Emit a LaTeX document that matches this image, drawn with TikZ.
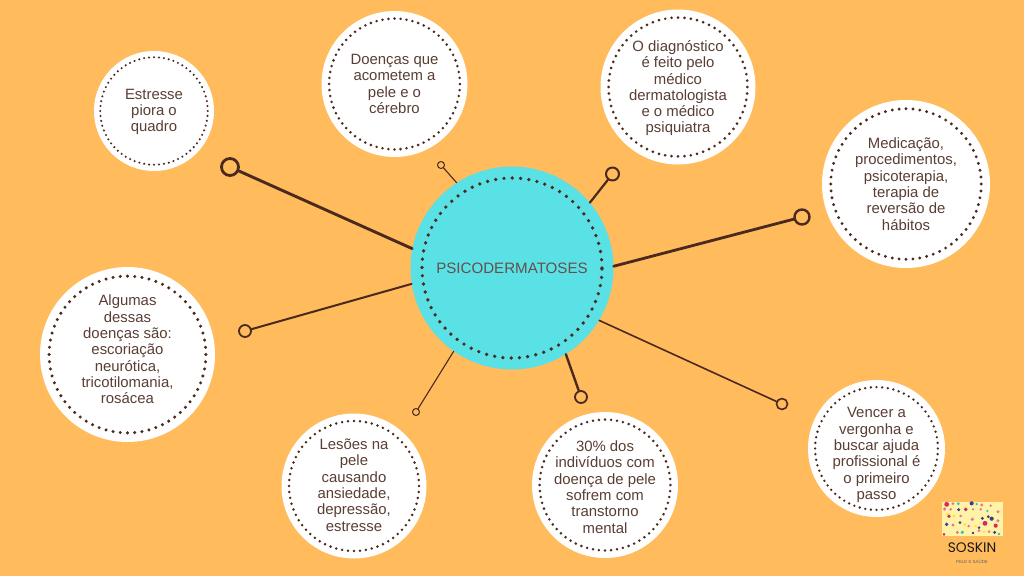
\documentclass[tikz,border=0pt]{standalone}
\usepackage{fontspec}
\setmainfont{Liberation Sans}
\newfontfamily\marcafont{Poppins}
\definecolor{fundo}{HTML}{FFBB5C}
\definecolor{ciano}{HTML}{5AE1E6}
\definecolor{marrom}{HTML}{4A2A1E}
\definecolor{texto}{HTML}{5A3E34}
\definecolor{creme}{HTML}{FFF3A8}
\definecolor{rubi}{HTML}{D42A5C}
\definecolor{rosa}{HTML}{EE6F9A}
\definecolor{anil}{HTML}{3F3A8C}
\definecolor{turq}{HTML}{2FC4C8}
\definecolor{ouro}{HTML}{FFE62E}
\tikzset{
	bolha/.style={circle,fill=white,inner sep=0pt},
	letras/.style={inner sep=0pt,align=center,text=texto,font=\fontsize{14.9}{16.3}\selectfont},
	pontos/.style={draw=marrom,line cap=round},
	pino/.style={circle,draw=marrom,inner sep=0pt},
	fio/.style={draw=marrom,line cap=round}
}
\begin{document}
\begin{tikzpicture}[x=1pt,y=-1pt,line join=round]
	\fill[fundo] (0,0) rectangle (1024,576);
	\useasboundingbox (0,0) rectangle (1024,576);
	% bolhas
	\foreach \n/\x/\y/\r/\o/\t in {%
		um/154/111/60/1/{Estresse\\piora o\\quadro},
		dois/394.5/84/73/0/{Doenças que\\acometem a\\pele e o\\cérebro},
		tres/678/87/77.5/1.3/{O diagnóstico\\é feito pelo\\médico\\dermatologista\\e o médico\\psiquiatra},
		quatro/906/184/84/0/{Medicação,\\procedimentos,\\psicoterapia,\\terapia de\\reversão de\\hábitos},
		cinco/127.5/354.5/87.5/-5/{Algumas\\dessas\\doenças são:\\escoriação\\neurótica,\\tricotilomania,\\rosácea},
		seis/354/486/72.5/-1/{Lesões na\\pele\\causando\\ansiedade,\\depressão,\\estresse},
		sete/605/485/73/2/{30\% dos\\indivíduos com\\doença de pele\\sofrem com\\transtorno\\mental},
		oito/876.5/448.5/68.5/6.5/{Vencer a\\vergonha e\\buscar ajuda\\profissional é\\o primeiro\\passo}}
	{
		\pgfmathsetmacro\R{0.896*\r}
		\pgfmathsetmacro\D{2*pi*\R/68}
		\pgfmathsetmacro\W{\r/26}
		\node[bolha,minimum size=2*\r pt] (\n) at (\x,\y) {};
		\draw[pontos,line width=\W pt,dash pattern=on 0pt off \D pt] (\n.center) circle (\R pt);
		\node[letras] (\n txt) at (\x,\y+\o) {\t};
	}
	% centro
	\node[circle,fill=ciano,inner sep=0pt,minimum size=203pt,text=texto!80!black!85!white,font=\fontsize{15.1}{18}\selectfont] (hub) at (512,268) {PSICODERMATOSES};
	\draw[pontos,line width=3.7pt,dash pattern=on 0pt off 8.3pt] (hub.center) circle (90pt);
	% pinos
	\node[pino,minimum size=17pt,line width=2.8pt] (pa) at (230,167) {};
	\node[pino,minimum size=7pt,line width=1pt] (pb) at (441,165) {};
	\node[pino,minimum size=13pt,line width=2pt] (pc) at (612.5,174) {};
	\node[pino,minimum size=15pt,line width=2.4pt] (pd) at (802,217) {};
	\node[pino,minimum size=12pt,line width=1.8pt] (pe) at (245,331) {};
	\node[pino,minimum size=7pt,line width=1pt] (pf) at (416,412) {};
	\node[pino,minimum size=12pt,line width=1.8pt] (pg) at (581,397) {};
	\node[pino,minimum size=11pt,line width=1.6pt] (ph) at (782,404) {};
	\draw[fio,line width=2.9pt] (hub.169) -- (pa);
	\draw[fio,line width=1.1pt] (hub.123.5) -- (pb);
	\draw[fio,line width=2.2pt] (hub.40.2) -- (pc);
	\draw[fio,line width=2.8pt] (hub.1.7) -- (pd);
	\draw[fio,line width=2pt] (hub.189.6) -- (pe);
	\draw[fio,line width=1.1pt] (hub.235.4) -- (pf);
	\draw[fio,line width=2.4pt] (hub.-58) -- (pg);
	\draw[fio,line width=1.6pt] (hub.-31) -- (ph);
	% logo
	\node[fill=creme,inner sep=0pt,minimum width=61.5pt,minimum height=34pt] (logo) at (972.5,519) {};
	\begin{scope}[shift={(924,490)},x=0.3333pt,y=-0.3333pt]
	\foreach \x/\y/\c/\s in {68/43/rubi/2.2,143/40/anil/1.9,87/41/rosa/1.4,103/41/turq/1.4,158/42/turq/1.2,173/45/rosa/1.5,200/47/rosa/1.2,
		62/57/rosa/1.6,80/58/rosa/1.3,104/59/anil/1.5,125/58/rubi/1.8,147/58/rosa/1.2,170/58/rosa/1.2,190/63/turq/1.2,222/65/rosa/1.5,
		70/72/ouro/1.3,90/78/ouro/1.4,75/79/rubi/1.7,110/78/rosa/1.3,145/88/rosa/1.6,175/85/anil/1.5,193/80/anil/1.4,203/86/anil/1.9,222/92/rosa/1.5,
		183/100/rubi/2.2,68/103/anil/1.7,87/105/rosa/1.4,108/98/anil/1.4,122/103/ouro/1.4,134/108/rosa/1.3,155/108/ouro/1.3,215/107/rubi/1.9,165/113/anil/1.3,
		100/127/rosa/1.5,115/127/turq/1.6,147/129/anil/1.3,180/125/ouro/1.3,195/125/rosa/1.3,212/127/anil/1.5,225/132/turq/1.3,165/122/rosa/1.4,60/133/rubi/1.3}
	\fill[\c] (\x,\y) circle ({1.1*\s pt});
	\end{scope}
	\node[text=black!90,font=\marcafont\fontsize{13.8}{14}\selectfont] (marca) at (972,548) {SOSKIN};
	\node[text=black!60,font=\fontsize{4.4}{5}\selectfont] (slogan) at (972,562) {PELE E SAÚDE};
\end{tikzpicture}
\end{document}
